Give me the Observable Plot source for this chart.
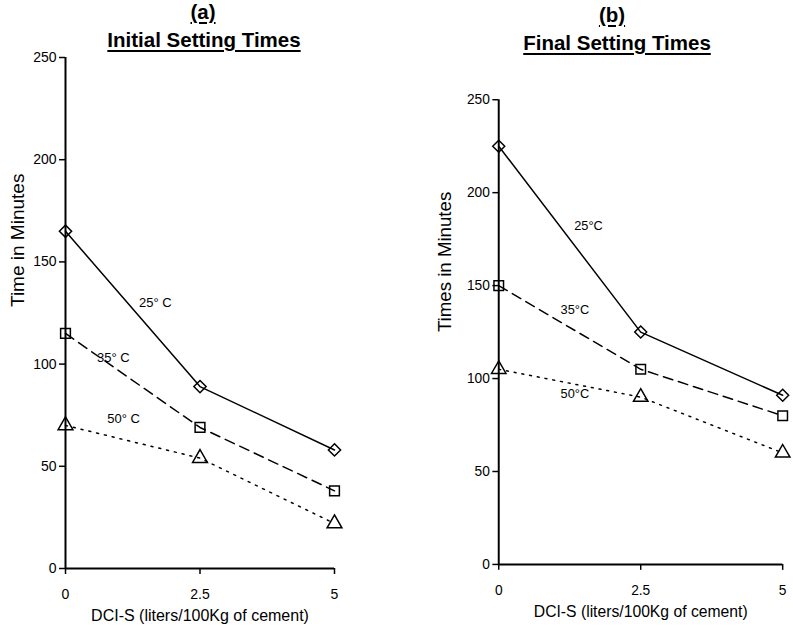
<!DOCTYPE html>
<html><head><meta charset="utf-8">
<script src="https://cdn.jsdelivr.net/npm/d3@7"></script>
<script src="https://cdn.jsdelivr.net/npm/@observablehq/plot@0.6"></script>
<style>
html,body{margin:0;padding:0;background:#fff;overflow:hidden;}
#fig{position:relative;width:793px;height:631px;overflow:hidden;font-family:"Liberation Sans",Arial,sans-serif;color:#000;}
.panel{position:absolute;top:0;}
.t{position:absolute;font-weight:bold;font-size:20.5px;text-decoration:underline;text-decoration-thickness:2px;text-underline-offset:3px;white-space:nowrap;transform:translateX(-50%);line-height:1;}
</style></head><body><div id="fig"></div>
<script>
// ---- data ----
const doses = [0, 2.5, 5];
const doseLabels = ["0", "2.5", "5"];
const yTicks = [0, 50, 100, 150, 200, 250];
const temps = ["25", "35", "50"];
const initial25 = [165, 89, 58];
const initial35 = [115, 69, 38];
const initial50 = [70, 54, 22];
const final25 = [225, 125, 91];
const final35 = [150, 105, 80];
const final50 = [105, 90, 60];
const initialLabels = ["25\u00b0 C", "35\u00b0 C", "50\u00b0 C"];
const finalLabels = ["25\u00b0C", "35\u00b0C", "50\u00b0C"];
const initialLabelX = [1.67, 0.89, 1.08];
const initialLabelY = [130, 103, 73];
const finalLabelX = [1.58, 1.34, 1.34];
const finalLabelY = [182, 137, 92];
const xTitle = "DCI-S (liters/100Kg of cement)";

const symbols = ["diamond2", "square", "triangle"];
const dashes = [null, "10,6", "2,6"];

function rows(series) {
  const out = [];
  series.forEach((vals, i) => vals.forEach((v, j) => out.push({temp: temps[i], dose: doses[j], time: v})));
  return out;
}

function panel(opts) {
  const data = rows(opts.series);
  const marks = [
    Plot.axisX({ticks: doses, tickFormat: d => doseLabels[doses.indexOf(d)], tickSize: 6, tickPadding: 15, label: null, strokeWidth: 1.5}),
    Plot.axisY({ticks: yTicks, tickSize: 6, tickPadding: 3, label: null, strokeWidth: 1.5}),
    Plot.ruleX([0], {stroke: "#000", strokeWidth: 2}),
    Plot.ruleY([0], {stroke: "#000", strokeWidth: 2})
  ];
  temps.forEach((t, i) => {
    const d = data.filter(r => r.temp === t);
    marks.push(Plot.line(d, {x: "dose", y: "time", stroke: "#000", strokeWidth: 1.5, strokeDasharray: dashes[i]}));
    marks.push(Plot.dot(d, {x: "dose", y: "time", symbol: symbols[i], r: 5.5, stroke: "#000", strokeWidth: 1.5, fill: "none"}));
  });
  const lab = opts.labels.map((s, i) => ({s, x: opts.lx[i], y: opts.ly[i]}));
  marks.push(Plot.text(lab, {x: "x", y: "y", text: "s", fontSize: 13, fill: "#000"}));
  marks.push(Plot.text([opts.yTitle], {frameAnchor: "left", rotate: -90, dx: opts.yTitleDx, dy: opts.yTitleDy, fontSize: 19, fill: "#000"}));
  marks.push(Plot.text([xTitle], {frameAnchor: "bottom", dy: opts.xTitleDy, fontSize: 16, fill: "#000"}));
  return Plot.plot({
    width: opts.width, height: 631,
    marginLeft: opts.ml, marginRight: opts.mr, marginTop: opts.mt, marginBottom: opts.mb,
    x: {domain: [0, 5]},
    y: {domain: [0, 250]},
    style: {fontFamily: "Liberation Sans, Arial, sans-serif", fontSize: "14px", color: "#000", background: "transparent", overflow: "visible"},
    marks
  });
}

const fig = document.getElementById("fig");

function place(node, left) {
  const div = document.createElement("div");
  div.className = "panel";
  div.style.left = left + "px";
  div.appendChild(node);
  fig.appendChild(div);
}

function title(text, cx, top) {
  const d = document.createElement("div");
  d.className = "t";
  d.style.left = cx + "px";
  d.style.top = top + "px";
  d.textContent = text;
  fig.appendChild(d);
}

place(panel({series: [initial25, initial35, initial50], labels: initialLabels, lx: initialLabelX, ly: initialLabelY,
  width: 400, ml: 65, mr: 66, mt: 57, mb: 63, yTitle: "Time in Minutes", yTitleDx: -48, yTitleDy: -6, xTitleDy: 52}), 0);
place(panel({series: [final25, final35, final50], labels: finalLabels, lx: finalLabelX, ly: finalLabelY,
  width: 400, ml: 100, mr: 11, mt: 101, mb: 57, yTitle: "Times in Minutes", yTitleDx: -55, yTitleDy: 0, xTitleDy: 53}), 400);

title("(a)", 203, 2);
title("Initial Setting Times", 204, 30);
title("(b)", 612, 5);
title("Final Setting Times", 617, 33);
</script>
</body></html>
